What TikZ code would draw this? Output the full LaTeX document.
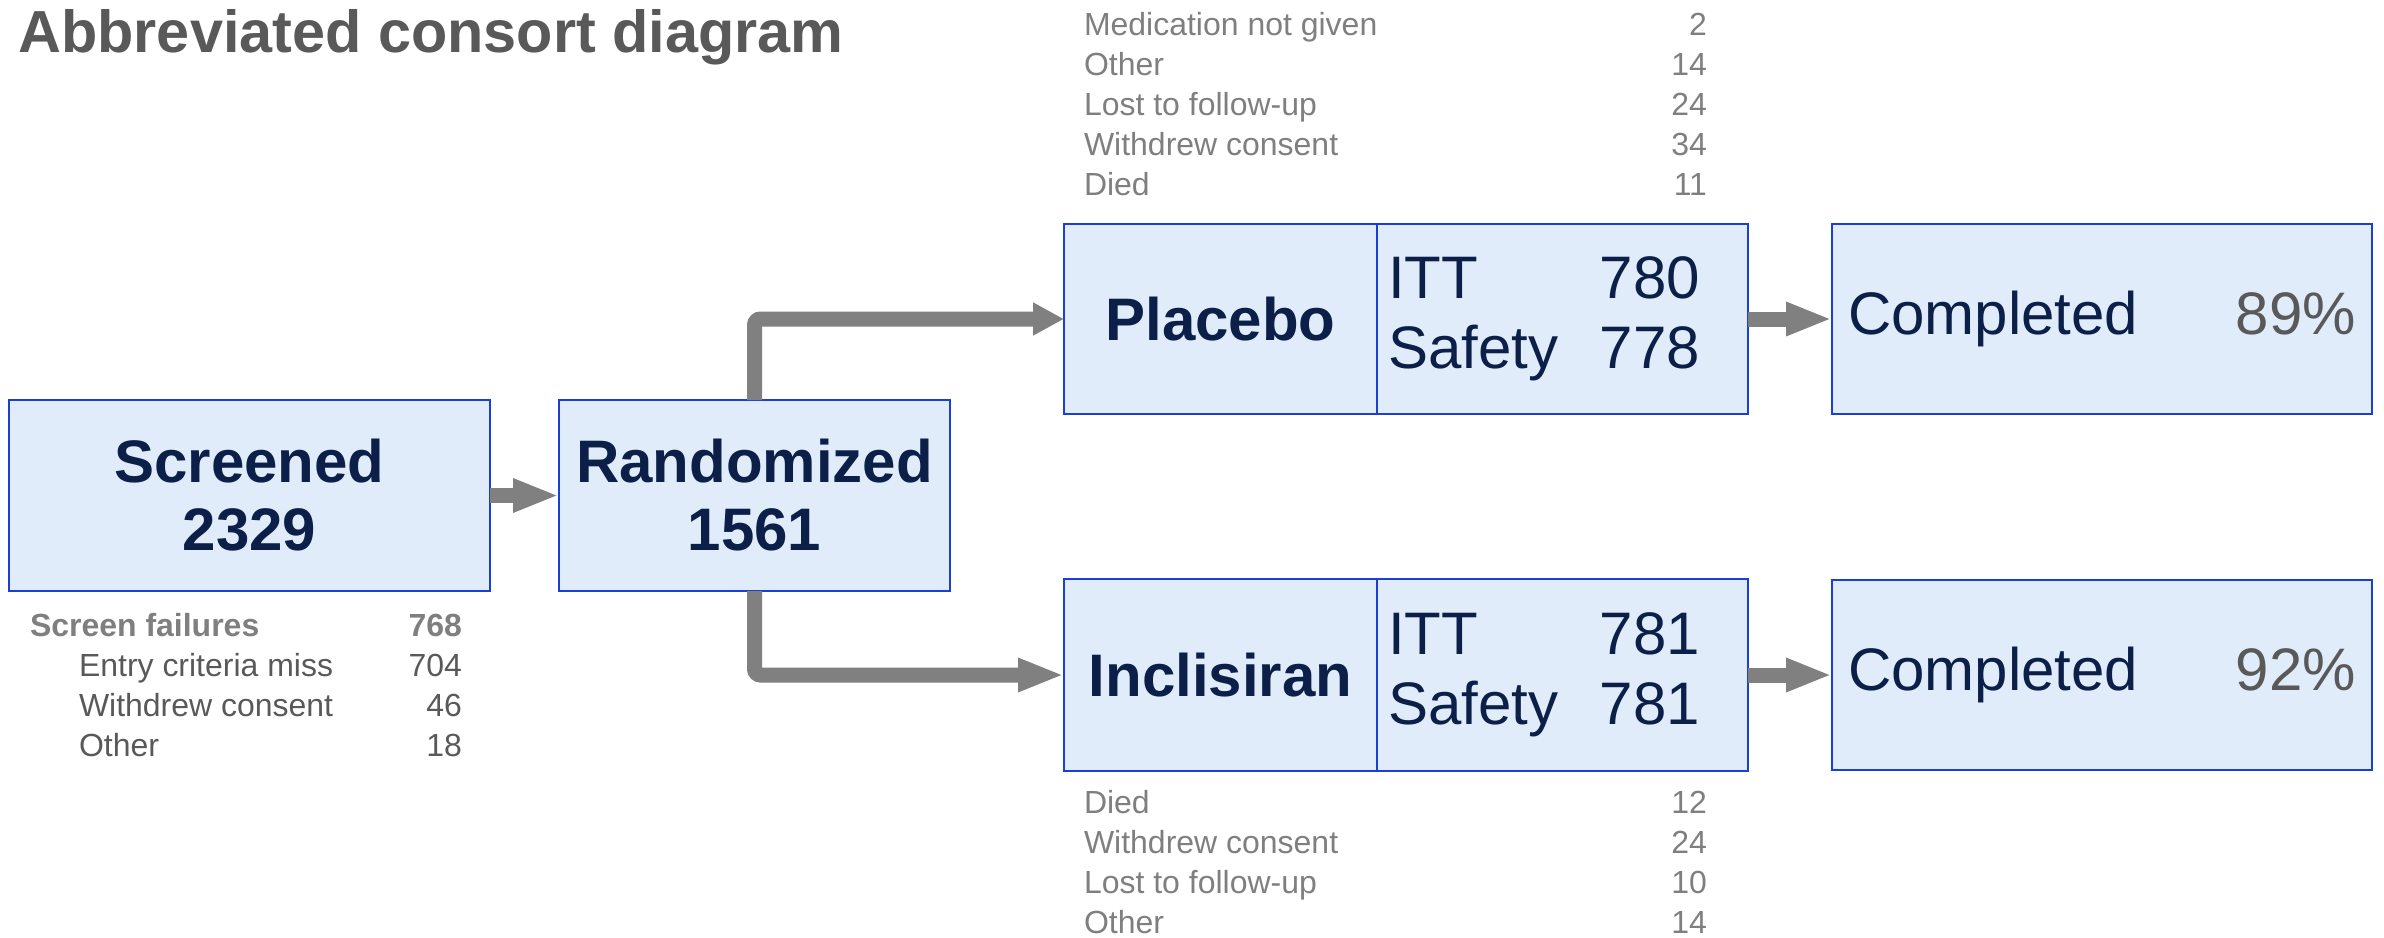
\documentclass[tikz,border=0pt]{standalone}
\usepackage{fontspec}
\setmainfont{Liberation Sans}
\usetikzlibrary{positioning,arrows.meta}

\definecolor{navy}{HTML}{0B1F48}
\definecolor{boxfill}{HTML}{E0ECFA}
\definecolor{boxline}{HTML}{1A3FD6}
\definecolor{arrowgray}{HTML}{808080}
\definecolor{darkgray}{HTML}{595959}
\definecolor{listgray}{HTML}{7F7F7F}

% one line of a list: label left, number right
\newcommand{\statrow}[3]{\makebox[#1][l]{#2\hfill #3}}

\tikzset{
  box/.style={draw=boxline, fill=boxfill, line width=0.7pt, inner sep=0pt, outer sep=0pt,
    minimum height=1.91cm, text=navy},
  bigbold/.style={font=\fontsize{17.07}{19.35}\selectfont\bfseries, align=center},
  bigreg/.style={font=\fontsize{17.07}{19.92}\selectfont},
  list/.style={font=\fontsize{9.1}{11.38}\selectfont, inner sep=0pt, outer sep=0pt, align=left},
  flow/.style={draw=arrowgray, line width=0.15cm, rounded corners=0.06cm,
    -{Triangle[length=0.46cm, width=0.31cm]}},
}

\begin{document}
\begin{tikzpicture}
    \useasboundingbox (0,0) rectangle (23.84,9.37);

    \node[anchor=base west, text=darkgray, font=\fontsize{16.9}{20}\selectfont\bfseries]
        (title) at (0.06,8.85) {Abbreviated consort diagram};

    \node[box, bigbold, minimum width=4.81cm] (screened) at (2.495,4.415) {Screened\\2329};
    \node[box, bigbold, minimum width=3.91cm, right=0.69cm of screened] (randomized) {Randomized\\1561};

    \node[box, bigbold, minimum width=3.13cm, minimum height=1.90cm] (placebo) at (12.205,6.18) {Placebo};
    \node[box, bigreg, minimum width=3.71cm, minimum height=1.90cm, text width=3.49cm, align=left,
        right=0pt of placebo] (placeboN) {\statrow{3.12cm}{ITT}{780}\\\statrow{3.12cm}{Safety}{778}};
    \node[box, bigreg, minimum width=5.40cm, minimum height=1.90cm, right=0.84cm of placeboN]
        (completedP) {\statrow{5.08cm}{Completed}{\textcolor{darkgray}{89\%}}};

    \node[box, bigbold, minimum width=3.13cm, minimum height=1.92cm] (inclisiran) at (12.205,2.62) {Inclisiran};
    \node[box, bigreg, minimum width=3.71cm, minimum height=1.92cm, text width=3.49cm, align=left,
        right=0pt of inclisiran] (inclisiranN) {\statrow{3.12cm}{ITT}{781}\\\statrow{3.12cm}{Safety}{781}};
    \node[box, bigreg, minimum width=5.40cm, minimum height=1.90cm, right=0.84cm of inclisiranN]
        (completedI) {\statrow{5.08cm}{Completed}{\textcolor{darkgray}{92\%}}};

    \node[list, anchor=north west, text=listgray] (failures) at ([xshift=0.21cm, yshift=-0.22cm]screened.south west)
        {\textbf{\statrow{4.32cm}{Screen failures}{768}}\\
         \textcolor{darkgray}{\statrow{4.32cm}{\hspace{0.49cm}Entry criteria miss}{704}}\\
         \textcolor{darkgray}{\statrow{4.32cm}{\hspace{0.49cm}Withdrew consent}{46}}\\
         \textcolor{darkgray}{\statrow{4.32cm}{\hspace{0.49cm}Other}{18}}};

    \node[list, anchor=south west, text=listgray] (placeboOut) at ([xshift=0.2cm, yshift=0.28cm]placebo.north west)
        {\statrow{6.23cm}{Medication not given}{2}\\
         \statrow{6.23cm}{Other}{14}\\
         \statrow{6.23cm}{Lost to follow-up}{24}\\
         \statrow{6.23cm}{Withdrew consent}{34}\\
         \statrow{6.23cm}{Died}{11}};

    \node[list, anchor=north west, text=listgray] (inclisiranOut) at ([xshift=0.2cm, yshift=-0.19cm]inclisiran.south west)
        {\statrow{6.23cm}{Died}{12}\\
         \statrow{6.23cm}{Withdrew consent}{24}\\
         \statrow{6.23cm}{Lost to follow-up}{10}\\
         \statrow{6.23cm}{Other}{14}};

    \draw[flow] (screened) -- (randomized);
    \draw[flow, -{Triangle[length=0.31cm, width=0.31cm]}] (randomized.north) |- (placebo.west);
    \draw[flow] (randomized.south) |- (inclisiran.west);
    \draw[flow] (placeboN) -- (completedP);
    \draw[flow] (inclisiranN) -- (completedI);
\end{tikzpicture}
\end{document}
